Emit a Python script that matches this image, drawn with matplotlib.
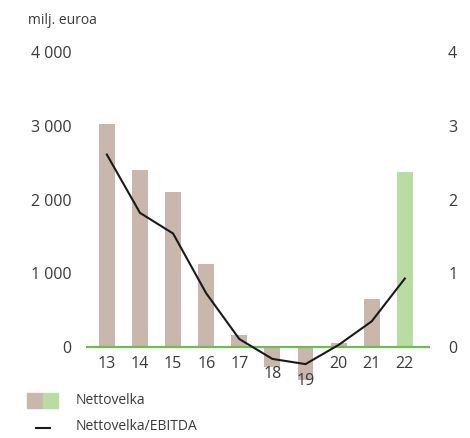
import numpy as np
import matplotlib
matplotlib.use("Agg")
import matplotlib.pyplot as plt
from matplotlib.patches import Rectangle
from matplotlib.lines import Line2D

plt.rcParams['font.family'] = ['Open Sans', 'DejaVu Sans']

# data
years = ["13", "14", "15", "16", "17", "18", "19", "20", "21", "22"]
net_debt = [3030, 2400, 2100, 1120, 170, -270, -450, 60, 650, 2370]
debt_ebitda = [2.61, 1.82, 1.54, 0.73, 0.11, -0.16, -0.23, 0.03, 0.35, 0.93]
left_ticks = [0, 1000, 2000, 3000, 4000]
left_labels = ["0", "1 000", "2 000", "3 000", "4 000"]
right_ticks = [0, 1, 2, 3, 4]

brown = "#c9b7ab"
light_green = "#b8dca1"
line_green = "#6cc04a"
txt = "#3a3a3a"
W, H = 470, 438

fig = plt.figure(figsize=(4.7, 4.38), dpi=100)
ax = fig.add_axes([86 / W, 1 - 391.4 / H, 344 / W, (391.4 - 52) / H])
x = np.arange(len(years))
colors = [brown] * (len(years) - 1) + [light_green]
ax.bar(x, net_debt, width=0.48, color=colors, zorder=2)
ax.axhline(0, color=line_green, lw=1.6, zorder=3)
ax.set_xlim(-0.63, 9.76)
ax.set_ylim(-600, 4000)
ax.set_yticks(left_ticks)
ax.set_yticklabels(left_labels)
ax.set_xticks([])
ax.tick_params(axis='y', length=0, pad=10.5, labelsize=11.5, labelcolor=txt)
for s in ax.spines.values():
    s.set_visible(False)

# x labels sit below the bar end when negative
for i, (lab, v) in enumerate(zip(years, net_debt)):
    yv = min(v, 0) * 0.5
    ax.annotate(lab, (i, yv), xytext=(0, -6.5), textcoords="offset points",
                ha="center", va="top", fontsize=11.5, color=txt, zorder=5)

ax2 = ax.twinx()
ax2.plot(x, debt_ebitda, color="#1a1a1a", lw=1.5, zorder=4)
ax2.set_ylim(-0.6, 4)
ax2.set_yticks(right_ticks)
ax2.tick_params(axis='y', length=0, pad=13, labelsize=11.5, labelcolor=txt)
for s in ax2.spines.values():
    s.set_visible(False)

fig.text(28 / W, 1 - 20 / H, "milj. euroa", fontsize=10, color=txt, va="center")

# legend drawn by hand
fig.patches.append(Rectangle((27 / W, 1 - 408 / H), 16 / W, 15 / H,
                             transform=fig.transFigure, color=brown))
fig.patches.append(Rectangle((43 / W, 1 - 408 / H), 15 / W, 15 / H,
                             transform=fig.transFigure, color=light_green))
fig.text(76 / W, 1 - 401 / H, "Nettovelka", fontsize=10, color=txt, va="center")
fig.lines.append(Line2D([36 / W, 50 / W], [1 - 428 / H] * 2, transform=fig.transFigure,
                        color="#1a1a1a", lw=1.5))
fig.text(76 / W, 1 - 427 / H, "Nettovelka/EBITDA", fontsize=10, color=txt, va="center")

fig.savefig("out.png", dpi=100, facecolor="white")
